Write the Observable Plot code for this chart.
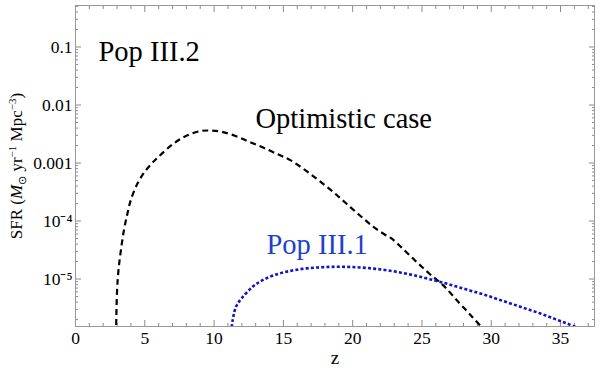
<!DOCTYPE html>
<html><head><meta charset="utf-8">
<script src="https://cdn.jsdelivr.net/npm/d3@7"></script>
<script src="https://cdn.jsdelivr.net/npm/@observablehq/plot@0.6"></script>
<style>
body{margin:0;background:#fff}
#chart svg{background:#fff}
</style>
</head><body><div id="chart"></div>
<script>
// Pop III.2 (optimistic case): redshift and log10 SFR
const popIII2Z = [2.86, 2.92, 3.0, 3.1, 3.25, 3.5, 3.75, 4.0, 4.5, 5.0, 5.5, 6.0, 7.0, 8.0, 9.0, 9.75, 10.5, 11.5, 12.5, 13.5, 14.5, 15.5, 16.5, 17.5, 18.5, 19.5, 20.5, 21.5, 22.5, 22.8, 23.5, 24.5, 25.5, 26.5, 27.5, 28.5, 29.3, 29.7];
const popIII2LogSFR = [-7.0, -6.0, -5.2, -4.85, -4.55, -4.15, -3.87, -3.63, -3.34, -3.15, -3.01, -2.89, -2.68, -2.53, -2.45, -2.44, -2.46, -2.53, -2.63, -2.73, -2.84, -2.95, -3.11, -3.29, -3.48, -3.69, -3.90, -4.10, -4.26, -4.30, -4.45, -4.68, -4.90, -5.10, -5.36, -5.62, -5.83, -5.95];
// Pop III.1
const popIII1Z = [11.15, 11.35, 11.6, 12.0, 12.8, 13.5, 14.5, 15.5, 16.5, 17.5, 18.5, 19.5, 20.5, 21.5, 22.5, 23.5, 24.5, 25.5, 26.5, 27.5, 28.5, 29.5, 30.5, 31.5, 32.5, 33.5, 34.5, 35.5, 36.5];
const popIII1LogSFR = [-6.1, -5.7, -5.47, -5.33, -5.13, -5.02, -4.92, -4.86, -4.82, -4.80, -4.79, -4.79, -4.80, -4.82, -4.85, -4.89, -4.94, -5.00, -5.06, -5.13, -5.20, -5.27, -5.35, -5.43, -5.51, -5.59, -5.68, -5.77, -5.87];

const xTicks = [0, 5, 10, 15, 20, 25, 30, 35];
const xMinorTicks = [1,2,3,4,6,7,8,9,11,12,13,14,16,17,18,19,21,22,23,24,26,27,28,29,31,32,33,34,36,37];
const yTicks = [0.1, 0.01, 0.001, 1e-4, 1e-5];
const yTickLabels = ["0.1", "0.01", "0.001", "10⁻⁴", "10⁻⁵"];
const yMinorTicks = [2e-6,3e-6,4e-6,5e-6,6e-6,7e-6,8e-6,9e-6,
  2e-5,3e-5,4e-5,5e-5,6e-5,7e-5,8e-5,9e-5,
  2e-4,3e-4,4e-4,5e-4,6e-4,7e-4,8e-4,9e-4,
  2e-3,3e-3,4e-3,5e-3,6e-3,7e-3,8e-3,9e-3,
  0.02,0.03,0.04,0.05,0.06,0.07,0.08,0.09,0.2,0.3,0.4,0.5];

const annotations = [
  {label: "Pop III.2", z: 1.66, sfr: 0.082, color: "black"},
  {label: "Optimistic case", z: 12.99, sfr: 5.8e-3, color: "black"},
  {label: "Pop III.1", z: 13.78, sfr: 3.84e-5, color: "#1f3fd0"}
];

const popIII2 = popIII2Z.map((z, i) => ({z, sfr: 10 ** popIII2LogSFR[i]}));
const popIII1 = popIII1Z.map((z, i) => ({z, sfr: 10 ** popIII1LogSFR[i]}));
const tickLabel = new Map(yTicks.map((v, i) => [v, yTickLabels[i]]));
const tickColor = "#8a8a8a";
const serif = "Liberation Serif";

const chart = Plot.plot({
  width: 600, height: 371,
  marginLeft: 75, marginRight: 6, marginTop: 5, marginBottom: 45,
  style: {color: "black", background: "white"},
  x: {domain: [0, 37.45]},
  y: {type: "log", domain: [1.52e-6, 0.519]},
  marks: [
    Plot.axisX({ticks: xTicks, tickSize: 0, tickPadding: 5, tickFormat: d => String(d), label: null, fontSize: 17.5, fontFamily: serif}),
    Plot.axisY({ticks: yTicks, tickSize: 0, tickPadding: 3, tickFormat: d => tickLabel.get(d), label: null, fontSize: 17.5, fontFamily: serif}),
    Plot.axisX({ticks: xTicks, anchor: "bottom", tickSize: -6, fill: "none", stroke: tickColor, label: null}),
    Plot.axisX({ticks: xMinorTicks, anchor: "bottom", tickSize: -3, fill: "none", stroke: tickColor, label: null}),
    Plot.axisX({ticks: xTicks, anchor: "top", tickSize: -6, fill: "none", stroke: tickColor, label: null}),
    Plot.axisX({ticks: xMinorTicks, anchor: "top", tickSize: -3, fill: "none", stroke: tickColor, label: null}),
    Plot.axisY({ticks: yTicks, anchor: "left", tickSize: -6, fill: "none", stroke: tickColor, label: null}),
    Plot.axisY({ticks: yMinorTicks, anchor: "left", tickSize: -3, fill: "none", stroke: tickColor, label: null}),
    Plot.axisY({ticks: yTicks, anchor: "right", tickSize: -6, fill: "none", stroke: tickColor, label: null}),
    Plot.axisY({ticks: yMinorTicks, anchor: "right", tickSize: -3, fill: "none", stroke: tickColor, label: null}),
    Plot.frame({stroke: "#999"}),
    Plot.line(popIII2, {x: "z", y: "sfr", stroke: "black", strokeWidth: 2.2, strokeDasharray: "6,4", strokeLinecap: "butt", curve: "catmull-rom", clip: true}),
    Plot.line(popIII1, {x: "z", y: "sfr", stroke: "#1212c8", strokeWidth: 2.6, strokeDasharray: "3,2.2", strokeLinecap: "butt", curve: "catmull-rom", clip: true}),
    Plot.text(annotations, {x: "z", y: "sfr", text: "label", fill: "color", textAnchor: "start", lineAnchor: "middle", fontSize: 28.5, fontFamily: serif}),
    Plot.text(["z"], {frameAnchor: "bottom", dy: 37, fontSize: 19, fontFamily: serif, text: d => d})
  ]
});
document.getElementById("chart").appendChild(chart);

// y-axis title with italic M, sun subscript and superscripts
const svg = d3.select(chart);
const t = svg.append("text")
  .attr("transform", "translate(16,166) rotate(-90)")
  .attr("text-anchor", "middle")
  .attr("font-size", 17)
  .attr("font-family", serif)
  .attr("dy", "0.35em")
  .attr("fill", "black");
t.append("tspan").text("SFR (");
t.append("tspan").attr("font-style", "italic").text("M");
t.append("tspan").attr("font-size", 11).attr("dy", 4).text("⊙");
t.append("tspan").attr("dy", -4).text(" yr");
t.append("tspan").attr("font-size", 11).attr("dy", -6).text("−1");
t.append("tspan").attr("dy", 6).text(" Mpc");
t.append("tspan").attr("font-size", 11).attr("dy", -6).text("−3");
t.append("tspan").attr("dy", 6).text(")");
</script>
</body></html>
